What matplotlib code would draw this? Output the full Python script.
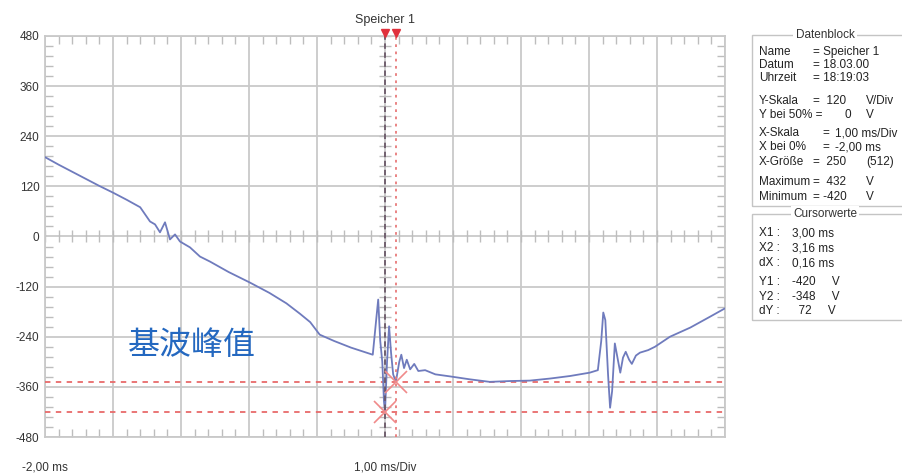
import numpy as np
import matplotlib
matplotlib.use("Agg")
import matplotlib.pyplot as plt
from matplotlib.patches import Rectangle
from matplotlib.transforms import offset_copy

# ---------------- data ----------------
time_ms = [-2.00, -1.80, -1.60, -1.40, -1.20, -1.00, -0.80, -0.60, -0.456, -0.382,
           -0.309, -0.235, -0.162, -0.088, -0.015, 0.132, 0.279, 0.426, 0.70, 1.01,
           1.30, 1.55, 1.75, 1.90, 2.04, 2.25, 2.50, 2.82, 2.87, 2.90,
           2.93, 2.96, 2.985, 3.00, 3.03, 3.06, 3.09, 3.12, 3.16, 3.21,
           3.24, 3.28, 3.32, 3.37, 3.43, 3.49, 3.59, 3.74, 3.96, 4.25,
           4.54, 4.84, 5.13, 5.43, 5.72, 6.01, 6.13, 6.18, 6.21, 6.24,
           6.28, 6.31, 6.34, 6.38, 6.43, 6.46, 6.50, 6.54, 6.59, 6.63,
           6.69, 6.75, 6.87, 6.97, 7.19, 7.49, 7.78, 8.00]
volts = [190, 172, 155, 138, 121, 105, 88, 70, 36, 29,
         10, 34, -7, 5, -12, -26, -48, -60, -85, -110,
         -135, -160, -185, -205, -235, -250, -266, -283, -200, -151,
         -250, -300, -395, -420, -300, -215, -280, -330, -348, -300,
         -283, -315, -295, -318, -305, -322, -320, -330, -335, -342,
         -348, -346, -345, -340, -334, -326, -320, -250, -182, -200,
         -330, -410, -370, -256, -300, -326, -290, -276, -295, -305,
         -285, -278, -272, -264, -240, -218, -192, -172]

x_min, x_max, x_div = -2.0, 8.0, 1.0
y_min, y_max, y_div = -480, 480, 120
y_ticks = [480, 360, 240, 120, 0, -120, -240, -360, -480]

cursor_x = [3.00, 3.16]
cursor_y = [-420, -348]

title = "Speicher 1"
x_start_label = "-2,00 ms"
x_scale_label = "1,00 ms/Div"
annotation = "基波峰值"

daten_rows = [("Name", "= Speicher 1", ""),
              ("Datum", "= 18.03.00", ""),
              ("Uhrzeit", "= 18:19:03", ""),
              ("Y-Skala", "=  120", "V/Div"),
              ("Y bei 50% =", "0", "V"),
              ("X-Skala", "=", "1,00 ms/Div"),
              ("X bei 0%", "=", "-2,00 ms"),
              ("X-Größe", "=  250", "(512)"),
              ("Maximum", "=  432", "V"),
              ("Minimum", "= -420", "V")]
cursor_rows = [("X1 :", "3,00 ms"), ("X2 :", "3,16 ms"), ("dX :", "0,16 ms"),
               ("Y1 :", "-420     V"), ("Y2 :", "-348     V"), ("dY :", "  72     V")]

# ---------------- figure ----------------
W, H = 903, 476
fig = plt.figure(figsize=(W / 100, H / 100), dpi=100)
plt.rcParams['font.family'] = ['Liberation Sans', 'DejaVu Sans']

def fx(px):
    return px / W

def fy(py):
    return 1 - py / H

ax = fig.add_axes([fx(45), fy(437), fx(725) - fx(45), fy(36) - fy(437)])
ax.set_xlim(x_min, x_max)
ax.set_ylim(y_min, y_max)

grid_c = "#c9c9c9"
for xv in np.arange(x_min, x_max + 1e-9, x_div):
    ax.axvline(xv, color=grid_c, lw=1.3, zorder=1)
for yv in np.arange(y_min, y_max + 1, y_div):
    ax.axhline(yv, color=grid_c, lw=1.3, zorder=1)
for s in ax.spines.values():
    s.set_color(grid_c)
    s.set_linewidth(1.3)

# edge minor ticks
ax.set_xticks(np.arange(x_min, x_max + 1e-9, x_div / 5), minor=True)
ax.set_yticks(np.arange(y_min, y_max + 1, y_div / 5), minor=True)
ax.set_xticks(np.arange(x_min, x_max + 1e-9, x_div))
ax.set_xticklabels([])
ax.set_yticks(y_ticks)
ax.set_yticklabels([str(v) for v in y_ticks], fontsize=8.5, color="#333333")
ax.tick_params(which="minor", direction="in", length=6, width=1.0, color="#bdbdbd",
               top=True, bottom=True, left=True, right=True)
ax.tick_params(which="major", direction="in", length=0, pad=4)

# center-axis ticks
cx = np.arange(x_min, x_max + 1e-9, x_div / 5)
ax.plot(cx, np.zeros_like(cx), linestyle="none", marker="|", markersize=8,
        color="#bdbdbd", mew=1.0, zorder=2)
cy = np.arange(y_min, y_max + 1, y_div / 5)
ax.plot(np.full_like(cy, cursor_x[0], dtype=float), cy, linestyle="none", marker="_",
        markersize=8, color="#bdbdbd", mew=1.0, zorder=2)

# waveform
ax.plot(time_ms, volts, color="#6f7bbd", lw=1.3, zorder=4)

# cursors
for yv in cursor_y:
    ax.axhline(yv, color="#e86a6a", lw=1.3, dashes=(3, 3), zorder=3)
ax.axvline(cursor_x[0], color="#6a5868", lw=1.3, dashes=(3, 2), zorder=5)
ax.axvline(cursor_x[1], color="#e87a7a", lw=1.3, dashes=(1.5, 2.5), zorder=5)
ax.plot(cursor_x, cursor_y, linestyle="none", marker="x", markersize=16, mew=1.2,
        color="#f08a8a", zorder=6)
tri_tr = offset_copy(ax.transData, fig=fig, y=3, units="dots")
ax.plot(cursor_x, [y_max, y_max], linestyle="none", marker="v", markersize=5.5,
        color="#e0303c", clip_on=False, zorder=7, transform=tri_tr)

# texts
fig.text(fx(385), fy(20), title, ha="center", va="center", fontsize=9, color="#333333")
fig.text(fx(22), fy(468), x_start_label, ha="left", va="center", fontsize=8.5, color="#333333")
fig.text(fx(385), fy(468), x_scale_label, ha="center", va="center", fontsize=8.5, color="#333333")
fig.text(fx(128), fy(345), annotation, ha="left", va="center", fontsize=23,
         color="#2468c0", family=["Noto Sans CJK SC", "DejaVu Sans"], fontweight="light")

# right panels
box_c = "#c4c4c4"
fig.add_artist(Rectangle((fx(752), fy(206)), fx(920) - fx(752), fy(35) - fy(206),
                         transform=fig.transFigure, fill=False, ec=box_c, lw=1.0))
fig.add_artist(Rectangle((fx(752), fy(320)), fx(920) - fx(752), fy(214) - fy(320),
                         transform=fig.transFigure, fill=False, ec=box_c, lw=1.0))
fig.text(fx(825), fy(35), "Datenblock", ha="center", va="center", fontsize=8.5,
         color="#333333", bbox=dict(fc="white", ec="none", pad=1.5))
fig.text(fx(825), fy(214), "Cursorwerte", ha="center", va="center", fontsize=8.5,
         color="#333333", bbox=dict(fc="white", ec="none", pad=1.5))

row_y = [52, 65, 78, 101, 115, 133, 147, 162, 182, 197]
fs = 8.5
for (lab, val, unit), yy in zip(daten_rows, row_y):
    fig.text(fx(759), fy(yy), lab, ha="left", va="center", fontsize=fs, color="#222222")
    if lab.startswith("Y bei"):
        fig.text(fx(851), fy(yy), val, ha="right", va="center", fontsize=fs, color="#222222")
        fig.text(fx(866), fy(yy), unit, ha="left", va="center", fontsize=fs, color="#222222")
    elif val == "=":
        fig.text(fx(822), fy(yy), val, ha="left", va="center", fontsize=fs, color="#222222")
        fig.text(fx(835), fy(yy), unit, ha="left", va="center", fontsize=fs, color="#222222")
    else:
        fig.text(fx(813), fy(yy), val, ha="left", va="center", fontsize=fs, color="#222222")
        if unit:
            fig.text(fx(866), fy(yy), unit, ha="left", va="center", fontsize=fs, color="#222222")

crow_y = [233, 248, 263, 282, 297, 311]
for (lab, val), yy in zip(cursor_rows, crow_y):
    fig.text(fx(759), fy(yy), lab, ha="left", va="center", fontsize=fs, color="#222222")
    fig.text(fx(792), fy(yy), val, ha="left", va="center", fontsize=fs, color="#222222")

fig.savefig("out.png", dpi=100)
